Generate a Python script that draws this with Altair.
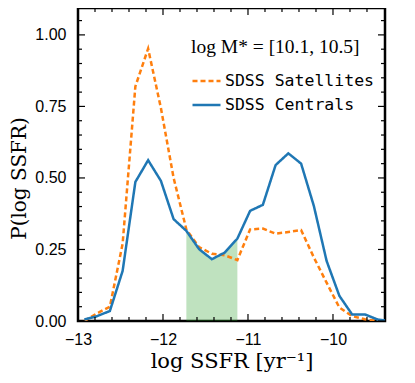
import altair as alt
import pandas as pd

# ---- data ----
log_ssfr = [-12.925, -12.775, -12.625, -12.475, -12.325, -12.175, -12.025, -11.875,
            -11.725, -11.575, -11.425, -11.275, -11.125, -10.975, -10.825, -10.675,
            -10.525, -10.375, -10.225, -10.075, -9.925, -9.775, -9.625, -9.475, -9.325]
centrals = [0.005, 0.017, 0.035, 0.175, 0.486, 0.562, 0.49, 0.356,
            0.315, 0.251, 0.216, 0.239, 0.288, 0.385, 0.406, 0.545,
            0.586, 0.55, 0.402, 0.21, 0.088, 0.023, 0.023, 0.005, 0.0]
satellites = [0.0, 0.027, 0.05, 0.27, 0.82, 0.952, 0.745, 0.50,
              0.32, 0.258, 0.235, 0.23, 0.213, 0.32, 0.323, 0.305,
              0.311, 0.318, 0.222, 0.134, 0.047, 0.017, 0.006, 0.0, 0.0]
series_names = ["SDSS Satellites", "SDSS Centrals"]
shade_range = [-11.73, -11.12]

x_major = [-13, -12, -11, -10]
x_minor = [-12.8, -12.6, -12.4, -12.2, -11.8, -11.6, -11.4, -11.2,
           -10.8, -10.6, -10.4, -10.2, -9.8, -9.6]
y_major = [0.0, 0.25, 0.5, 0.75, 1.0]
y_minor = [0.05, 0.1, 0.15, 0.2, 0.3, 0.35, 0.4, 0.45, 0.55, 0.6, 0.65, 0.7,
           0.8, 0.85, 0.9, 0.95, 1.05]

legend_title = "log M* = [10.1, 10.5]"

W, H = 307, 313
X_DOMAIN = [-13, -9.388]
Y_DOMAIN = [0, 1.094]

# ---- tables ----
rows = []
for name, vals in zip(series_names, [satellites, centrals]):
    for x, y in zip(log_ssfr, vals):
        rows.append({"x": x, "y": y, "series": name})
df = pd.DataFrame(rows)
shade_df = pd.DataFrame({"x": log_ssfr, "y": centrals})
shade_df = shade_df[(shade_df.x >= shade_range[0]) & (shade_df.x <= shade_range[1])]

xmaj = pd.DataFrame({"x": x_major})
xmin = pd.DataFrame({"x": x_minor})
ymaj = pd.DataFrame({"y": y_major})
ymin = pd.DataFrame({"y": y_minor})

tick_font = "Liberation Sans"
xs = alt.Scale(domain=X_DOMAIN, nice=False, zero=False)
ys = alt.Scale(domain=Y_DOMAIN, nice=False, zero=False)
xaxis = alt.Axis(values=x_major, format="d", ticks=False, domain=False, grid=False,
                 labelFont=tick_font, labelFontSize=16, labelColor="black",
                 labelPadding=10, title="log SSFR [yr\u207b\u00b9]",
                 titleFont="DejaVu Serif", titleFontSize=21, titleFontWeight="normal",
                 titleColor="black", titlePadding=3, labelFlush=False)
yaxis = alt.Axis(values=y_major, format=".2f", ticks=False, domain=False, grid=False,
                 labelFont=tick_font, labelFontSize=16, labelColor="black",
                 labelPadding=12, title="P(log SSFR)",
                 titleFont="DejaVu Serif", titleFontSize=20, titleFontWeight="normal",
                 titleColor="black", titlePadding=5, titleY=170)

X = lambda: alt.X("x:Q", scale=xs, axis=xaxis)
Y = lambda: alt.Y("y:Q", scale=ys, axis=yaxis)

shade = alt.Chart(shade_df).mark_area(color="#2ca02c", opacity=0.3).encode(x=X(), y=Y())

lines = alt.Chart(df).mark_line(strokeWidth=2.5, clip=True).encode(
    x=X(), y=Y(),
    color=alt.Color("series:N",
                    scale=alt.Scale(domain=series_names, range=["#ff7f0e", "#1f77b4"]),
                    legend=alt.Legend(title=legend_title, orient="none",
                                      legendX=113, legendY=30,
                                      titleFont="Liberation Serif", titleFontSize=19.5,
                                      titleFontWeight="normal", titleColor="black",
                                      titlePadding=8,
                                      labelFont="DejaVu Sans Mono", labelFontSize=16.5,
                                      labelColor="black", labelOffset=3,
                                      symbolType="stroke", symbolSize=784,
                                      symbolStrokeWidth=2.5, rowPadding=-2)),
    strokeDash=alt.StrokeDash("series:N",
                              scale=alt.Scale(domain=series_names, range=[[5, 3], [1, 0]]),
                              legend=alt.Legend(title=legend_title)),
    order=alt.Order("x:Q"),
)


def xticks(data, length):
    bottom = alt.Chart(data).mark_rule(color="black", strokeWidth=1.2).encode(
        x=X(), y=alt.value(H), y2=alt.value(H - length))
    top = alt.Chart(data).mark_rule(color="black", strokeWidth=1.2).encode(
        x=X(), y=alt.value(0), y2=alt.value(length))
    return bottom + top


def yticks(data, length):
    left = alt.Chart(data).mark_rule(color="black", strokeWidth=1.2).encode(
        y=Y(), x=alt.value(0), x2=alt.value(length))
    right = alt.Chart(data).mark_rule(color="black", strokeWidth=1.2).encode(
        y=Y(), x=alt.value(W), x2=alt.value(W - length))
    return left + right


chart = alt.layer(
    shade, lines,
    xticks(xmaj, 7), xticks(xmin, 4), yticks(ymaj, 7), yticks(ymin, 4),
).properties(
    width=W, height=H,
    background="white",
    autosize=alt.AutoSizeParams(type="none"),
    padding={"left": 70, "top": 0, "right": 22, "bottom": 54},
).configure_view(stroke="black", strokeWidth=2.5)

chart.save("out.html", embed_options={"renderer": "svg", "actions": False})
